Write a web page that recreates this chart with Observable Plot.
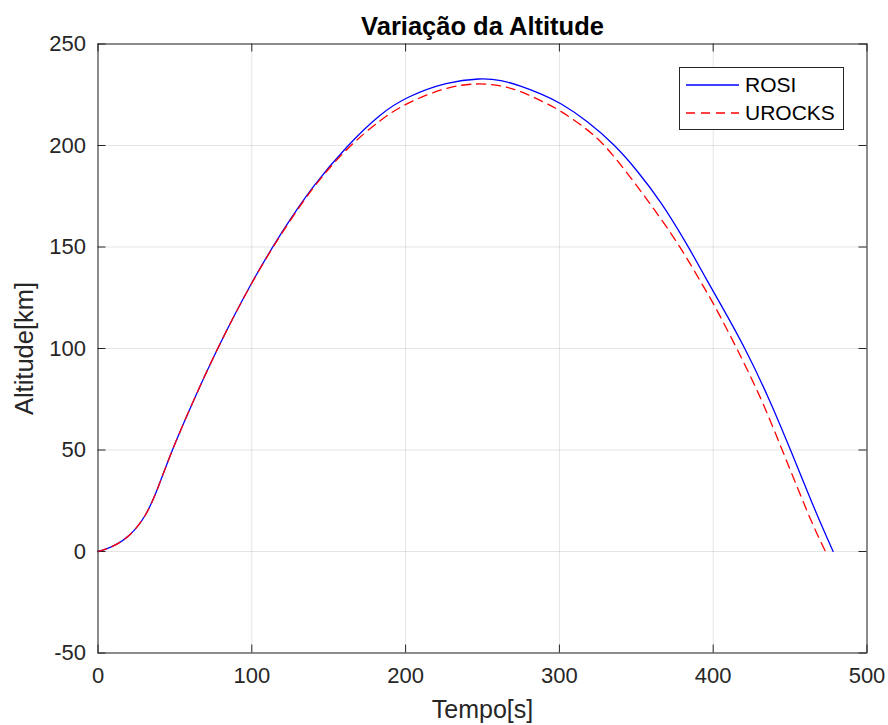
<!DOCTYPE html>
<html>
<head>
<meta charset="utf-8">
<script src="https://cdn.jsdelivr.net/npm/d3@7"></script>
<script src="https://cdn.jsdelivr.net/npm/@observablehq/plot@0.6"></script>
<style>
  body { margin: 0; background: #fff; }
  #wrap { position: relative; width: 888px; height: 725px; font-family: "Liberation Sans", Arial, sans-serif; }
  #legend { position: absolute; left: 679px; top: 67px; }
</style>
</head>
<body>
<div id="wrap"></div>
<script>
// --- data ---
const title = "Variação da Altitude";
const xLabel = "Tempo[s]";
const yLabel = "Altitude[km]";
const seriesNames = ["ROSI", "UROCKS"];

const rosiT = [0, 4, 11, 20, 31, 38.5, 48, 63, 77.5, 100, 119, 140, 162, 184, 200.5, 227, 249, 262, 274.6, 288, 300.3, 318, 336.5, 350.6, 365.7, 384.1, 396, 403.6, 421, 437, 450.3, 461, 470, 478];
const rosiV = [0, 0.8, 2.9, 7, 17, 30, 50, 76, 100, 133, 157, 180.5, 200, 216, 224, 231.4, 233.2, 232.3, 229.4, 225.5, 221.2, 212.2, 200, 187.6, 172.8, 150, 133.4, 123.5, 100, 74.3, 50, 30, 13.5, 0];

const urocksT = [0, 4, 11, 20, 31, 38.5, 48, 63, 77.5, 100, 119, 140, 162, 184, 200.5, 227, 247, 262, 274.6, 288, 300.3, 318, 330, 346.3, 361.5, 378.8, 393.9, 399.3, 415.5, 432, 444.8, 455.6, 464.4, 473];
const urocksV = [0, 0.8, 2.9, 7, 17, 30, 50, 76, 100, 133, 156.5, 180, 199, 213, 221, 229, 230.8, 229.6, 226.9, 222, 217.5, 208.1, 200, 184.3, 168.8, 150, 130.1, 123.5, 100, 74.3, 50, 30, 13.5, 0];

const xTicks = [0, 100, 200, 300, 400, 500];
const yTicks = [-50, 0, 50, 100, 150, 200, 250];

const rosi = rosiT.map((t, i) => ({t, v: rosiV[i]}));
const urocks = urocksT.map((t, i) => ({t, v: urocksV[i]}));

const axisColor = "#262626";
const frameW = 888 - 97.5 - 21.5;
const frameH = 725 - 43.5 - 72.5;
const tickLen = 8;

const chart = Plot.plot({
  width: 888,
  height: 725,
  marginTop: 43.5,
  marginBottom: 72.5,
  marginLeft: 97.5,
  marginRight: 21.5,
  style: { fontFamily: '"Liberation Sans", Arial, sans-serif', fontSize: "22px", color: axisColor, background: "#fff" },
  x: { domain: [0, 500] },
  y: { domain: [-50, 250] },
  marks: [
    Plot.gridX(xTicks, { stroke: "#000", strokeOpacity: 0.1 }),
    Plot.gridY(yTicks, { stroke: "#000", strokeOpacity: 0.1 }),
    Plot.axisX(xTicks, { tickSize: 0, tickPadding: 14, label: null, fontSize: 22, tickFormat: d => String(d) }),
    Plot.axisY(yTicks, { tickSize: 0, tickPadding: 12, label: null, fontSize: 22, tickFormat: d => String(d) }),
    Plot.tickX(xTicks, { x: d => d, insetTop: frameH - tickLen, stroke: axisColor }),
    Plot.tickX(xTicks, { x: d => d, insetBottom: frameH - tickLen, stroke: axisColor }),
    Plot.tickY(yTicks, { y: d => d, insetRight: frameW - tickLen, stroke: axisColor }),
    Plot.tickY(yTicks, { y: d => d, insetLeft: frameW - tickLen, stroke: axisColor }),
    Plot.line(rosi, { x: "t", y: "v", stroke: "#0000ff", strokeWidth: 1.3, curve: "basis" }),
    Plot.line(urocks, { x: "t", y: "v", stroke: "#ff0000", strokeWidth: 1.3, strokeDasharray: "9,6", curve: "basis" }),
    Plot.frame({ stroke: axisColor, strokeWidth: 1 }),
    Plot.text([title], { frameAnchor: "top", dy: -17, fontWeight: "bold", fontSize: 25.5, lineAnchor: "middle", fill: "#000" }),
    Plot.text([xLabel], { frameAnchor: "bottom", dy: 57, fontSize: 25, lineAnchor: "middle" }),
    Plot.text([yLabel], { frameAnchor: "left", textAnchor: "middle", dx: -73, rotate: -90, fontSize: 25.5, lineAnchor: "middle" })
  ]
});

const wrap = document.getElementById("wrap");
wrap.appendChild(chart);

// legend (overlay box like MATLAB's)
const legend = document.createElementNS("http://www.w3.org/2000/svg", "svg");
legend.setAttribute("id", "legend");
legend.setAttribute("width", 166);
legend.setAttribute("height", 64);
const colors = ["#0000ff", "#ff0000"];
const dashes = [null, "9,6"];
let inner = `<rect x="0.5" y="0.5" width="164" height="62" fill="#fff" stroke="${axisColor}" stroke-width="1"/>`;
seriesNames.forEach((name, i) => {
  const yy = 18 + i * 28;
  inner += `<line x1="7" x2="60" y1="${yy}" y2="${yy}" stroke="${colors[i]}" stroke-width="1.3" ${dashes[i] ? `stroke-dasharray="${dashes[i]}"` : ""}/>`;
  inner += `<text x="66" y="${yy}" dy="0.35em" font-family='"Liberation Sans", Arial, sans-serif' font-size="21" fill="#000">${name}</text>`;
});
legend.innerHTML = inner;
wrap.appendChild(legend);
</script>
</body>
</html>
